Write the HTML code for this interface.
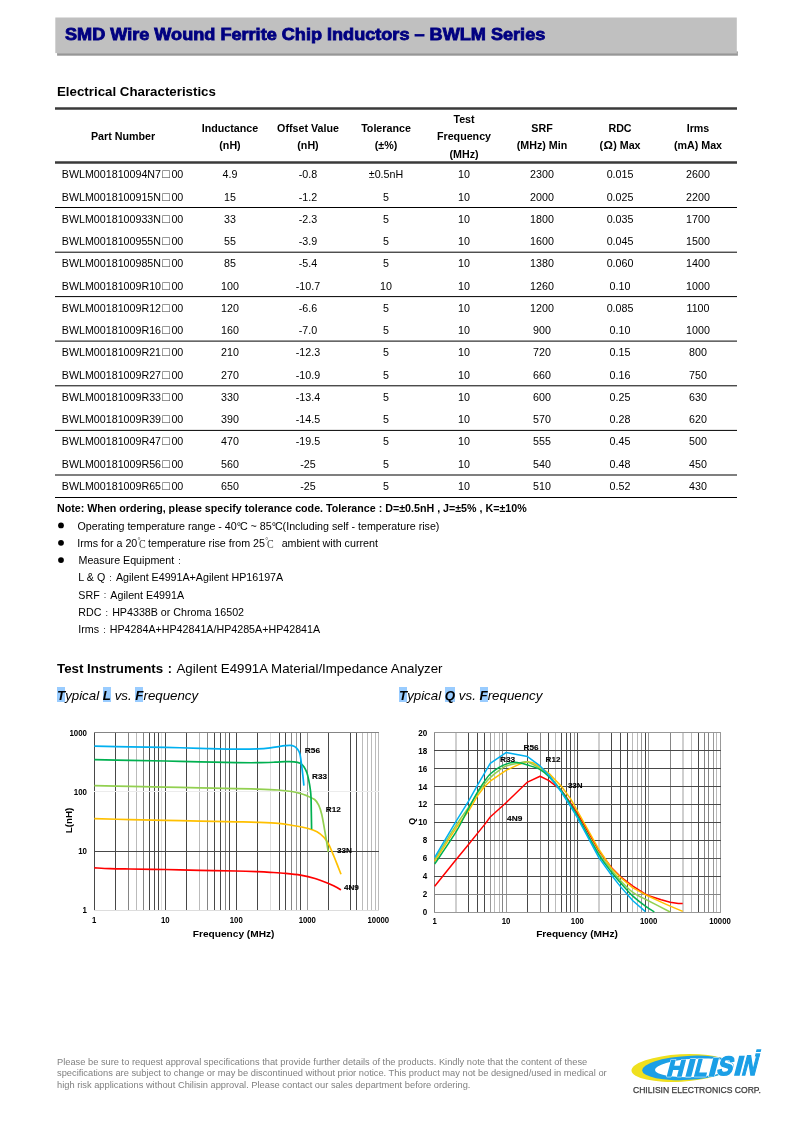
<!DOCTYPE html>
<html lang="en">
<head>
<meta charset="utf-8">
<title>SMD Wire Wound Ferrite Chip Inductors – BWLM Series</title>
<style>
html,body{margin:0;padding:0;background:#fff;}
body{width:794px;height:1123px;position:relative;overflow:hidden;font-family:"Liberation Sans",sans-serif;color:#000;}
#pg{position:absolute;left:0;top:0;width:794px;height:1123px;will-change:transform;}
.abs{position:absolute;white-space:nowrap;}
#banner{position:absolute;left:55px;top:17px;width:682px;height:35px;background:#c0c0c0;}
#bshadow{position:absolute;left:56px;top:52px;width:682px;height:3px;background:linear-gradient(#999 0,#999 66%,#c8c8c8 100%);}
#title{position:absolute;left:65.3px;top:25.3px;font-size:15.8px;font-weight:bold;color:#000080;white-space:nowrap;line-height:20px;transform-origin:0 50%;transform:scaleX(1.146);-webkit-text-stroke:0.8px #000080;}
#ec{left:57px;top:83.7px;font-size:13.3px;font-weight:bold;line-height:16px;}
table#t{position:absolute;left:55px;top:109.4px;width:682px;border-collapse:collapse;table-layout:fixed;font-size:10.7px;}
#t td,#t th{padding:0;text-align:center;vertical-align:middle;white-space:nowrap;}
#t th{font-weight:bold;line-height:17.3px;height:52.6px;padding-top:1.4px;}
#t td{height:22.25px;line-height:22.25px;}
#t td:first-child{text-align:left;padding-left:6.8px;}
.sq{font-size:12.7px;line-height:0;margin:0 1.4px 0 1.3px;color:#333;}
.n{font-size:10.7px;line-height:14px;}
.fw{display:inline-block;width:10.7px;text-align:center;font-size:9px;vertical-align:0.4px;color:#222;}
.dc{display:inline-block;position:relative;width:10.7px;height:1px;}
.dc i{position:absolute;left:0.3px;top:-8.8px;font:normal 7.5px/8px "Liberation Serif",serif;color:#444;}
.dc b{position:absolute;left:2.2px;top:-8.3px;font:normal 12px/12px "Liberation Serif",serif;transform:scaleX(.83);transform-origin:0 0;color:#333;}
.bu{position:absolute;left:58.2px;width:5.6px;height:5.6px;border-radius:50%;background:#000;}
.hl{padding-top:1px;background:linear-gradient(#99ccff,#99ccff) no-repeat 0 0/100% calc(100% - 1px);font-weight:bold;}
.ty{font-size:13.3px;font-style:italic;line-height:17px;}
.ft{font-size:9.3px;line-height:12px;color:#808080;left:57px;}
</style>
</head>
<body>
<div id="pg">
<svg width="794" height="60" viewBox="0 0 794 60" style="position:absolute;left:0;top:0;">
<rect x="57.1" y="51.4" width="680.8" height="4.3" fill="#979797"/>
<rect x="57.1" y="53" width="680.8" height="0.9" fill="#aaa"/>
<rect x="55.3" y="17.5" width="681.5" height="35.6" fill="#c0c0c0"/>
</svg>
<div id="title">SMD Wire Wound Ferrite Chip Inductors – BWLM Series</div>
<div id="ec" class="abs">Electrical Characteristics</div>

<svg width="794" height="400" viewBox="0 100 794 400" style="position:absolute;left:0;top:100px;">
<line x1="55" x2="737" y1="108.5" y2="108.5" stroke="#3a3a3a" stroke-width="2.5"/>
<line x1="55" x2="737" y1="162.5" y2="162.5" stroke="#3a3a3a" stroke-width="2.5"/>
<g stroke="#000" stroke-width="1">
<line x1="55" x2="737" y1="207.5" y2="207.5"/>
<line x1="55" x2="737" y1="252.2" y2="252.2"/>
<line x1="55" x2="737" y1="296.6" y2="296.6"/>
<line x1="55" x2="737" y1="341.1" y2="341.1"/>
<line x1="55" x2="737" y1="385.8" y2="385.8"/>
<line x1="55" x2="737" y1="430.4" y2="430.4"/>
<line x1="55" x2="737" y1="475.0" y2="475.0" stroke-width="1.7" stroke="#555"/>
<line x1="55" x2="737" y1="497.5" y2="497.5"/>
</g>
</svg>

<table id="t">
<colgroup><col style="width:136px"><col style="width:78px"><col style="width:78px"><col style="width:78px"><col style="width:78px"><col style="width:78px"><col style="width:78px"><col style="width:78px"></colgroup>
<thead>
<tr><th>Part Number</th><th>Inductance<br>(nH)</th><th>Offset Value<br>(nH)</th><th>Tolerance<br>(±%)</th><th>Test<br>Frequency<br>(MHz)</th><th>SRF<br>(MHz) Min</th><th>RDC<br>(<span style="display:inline-block;width:10.2px;text-align:center;font-size:11.8px;line-height:1;">Ω</span>) Max</th><th>Irms<br>(mA) Max</th></tr>
</thead>
<tbody>
<tr><td>BWLM001810094N7<span class="sq">□</span>00</td><td>4.9</td><td>-0.8</td><td>±0.5nH</td><td>10</td><td>2300</td><td>0.015</td><td>2600</td></tr>
<tr><td>BWLM0018100915N<span class="sq">□</span>00</td><td>15</td><td>-1.2</td><td>5</td><td>10</td><td>2000</td><td>0.025</td><td>2200</td></tr>
<tr><td>BWLM0018100933N<span class="sq">□</span>00</td><td>33</td><td>-2.3</td><td>5</td><td>10</td><td>1800</td><td>0.035</td><td>1700</td></tr>
<tr><td>BWLM0018100955N<span class="sq">□</span>00</td><td>55</td><td>-3.9</td><td>5</td><td>10</td><td>1600</td><td>0.045</td><td>1500</td></tr>
<tr><td>BWLM0018100985N<span class="sq">□</span>00</td><td>85</td><td>-5.4</td><td>5</td><td>10</td><td>1380</td><td>0.060</td><td>1400</td></tr>
<tr><td>BWLM00181009R10<span class="sq">□</span>00</td><td>100</td><td>-10.7</td><td>10</td><td>10</td><td>1260</td><td>0.10</td><td>1000</td></tr>
<tr><td>BWLM00181009R12<span class="sq">□</span>00</td><td>120</td><td>-6.6</td><td>5</td><td>10</td><td>1200</td><td>0.085</td><td>1100</td></tr>
<tr><td>BWLM00181009R16<span class="sq">□</span>00</td><td>160</td><td>-7.0</td><td>5</td><td>10</td><td>900</td><td>0.10</td><td>1000</td></tr>
<tr><td>BWLM00181009R21<span class="sq">□</span>00</td><td>210</td><td>-12.3</td><td>5</td><td>10</td><td>720</td><td>0.15</td><td>800</td></tr>
<tr><td>BWLM00181009R27<span class="sq">□</span>00</td><td>270</td><td>-10.9</td><td>5</td><td>10</td><td>660</td><td>0.16</td><td>750</td></tr>
<tr><td>BWLM00181009R33<span class="sq">□</span>00</td><td>330</td><td>-13.4</td><td>5</td><td>10</td><td>600</td><td>0.25</td><td>630</td></tr>
<tr><td>BWLM00181009R39<span class="sq">□</span>00</td><td>390</td><td>-14.5</td><td>5</td><td>10</td><td>570</td><td>0.28</td><td>620</td></tr>
<tr><td>BWLM00181009R47<span class="sq">□</span>00</td><td>470</td><td>-19.5</td><td>5</td><td>10</td><td>555</td><td>0.45</td><td>500</td></tr>
<tr><td>BWLM00181009R56<span class="sq">□</span>00</td><td>560</td><td>-25</td><td>5</td><td>10</td><td>540</td><td>0.48</td><td>450</td></tr>
<tr><td>BWLM00181009R65<span class="sq">□</span>00</td><td>650</td><td>-25</td><td>5</td><td>10</td><td>510</td><td>0.52</td><td>430</td></tr>
</tbody>
</table>

<svg width="20" height="60" viewBox="50 510 20 60" style="position:absolute;left:50px;top:510px;"><circle cx="61" cy="525.4" r="2.9"/><circle cx="61" cy="542.8" r="2.9"/><circle cx="61" cy="560.1" r="2.9"/></svg>
<div class="abs n" style="left:57px;top:501.1px;font-weight:bold;">Note: When ordering, please specify tolerance code. Tolerance : D=±0.5nH , J=±5% , K=±10%</div>
<div class="abs n" style="left:77.5px;top:518.5px;">Operating temperature range - 40<span style="letter-spacing:-1.1px">°</span>C ~ 85<span style="letter-spacing:-1.1px">°</span>C(Including self - temperature rise)</div>
<div class="abs n" style="left:77.3px;top:535.8px;">Irms for a 20<span class="dc"><i>°</i><b>C</b></span>temperature rise from 25<span class="dc"><i>°</i><b>C</b></span>&nbsp; ambient with current</div>
<div class="abs n" style="left:78.5px;top:553.1px;">Measure Equipment<span class="fw">:</span></div>
<div class="abs n" style="left:78.3px;top:570.4px;">L &amp; Q<span class="fw">:</span>Agilent E4991A+Agilent HP16197A</div>
<div class="abs n" style="left:78.3px;top:587.7px;">SRF<span class="fw">:</span>Agilent E4991A</div>
<div class="abs n" style="left:78.3px;top:605.0px;">RDC<span class="fw">:</span>HP4338B or Chroma 16502</div>
<div class="abs n" style="left:78.3px;top:622.4px;">Irms<span class="fw">:</span>HP4284A+HP42841A/HP4285A+HP42841A</div>

<div class="abs" style="left:57px;top:660px;font-size:13.3px;line-height:17px;"><b>Test Instruments</b><span style="display:inline-block;width:13.3px;text-align:center;font-weight:bold;font-size:12.5px;vertical-align:0.5px;">:</span>Agilent E4991A Material/Impedance Analyzer</div>
<div class="abs ty" style="left:57px;top:687px;"><span class="hl">T</span>ypical <span class="hl">L</span> vs. <span class="hl">F</span>requency</div>
<div class="abs ty" style="left:399px;top:687px;"><span class="hl">T</span>ypical <span class="hl">Q</span> vs. <span class="hl">F</span>requency</div>

<svg id="charts" width="794" height="240" viewBox="0 715 794 240" style="position:absolute;left:0;top:715px;font-family:'Liberation Sans',sans-serif;">
<g><line x1="94.50" y1="732.00" x2="94.50" y2="911.00" stroke="#484848" stroke-width="1.0"/><line x1="115.50" y1="732.00" x2="115.50" y2="911.00" stroke="#484848" stroke-width="1.0"/><line x1="128.50" y1="732.00" x2="128.50" y2="911.00" stroke="#858585" stroke-width="1.0"/><line x1="136.50" y1="732.00" x2="136.50" y2="911.00" stroke="#bbb" stroke-width="1.0"/><line x1="143.50" y1="732.00" x2="143.50" y2="911.00" stroke="#858585" stroke-width="1.0"/><line x1="149.50" y1="732.00" x2="149.50" y2="911.00" stroke="#484848" stroke-width="1.0"/><line x1="154.50" y1="732.00" x2="154.50" y2="911.00" stroke="#484848" stroke-width="1.0"/><line x1="158.50" y1="732.00" x2="158.50" y2="911.00" stroke="#484848" stroke-width="1.0"/><line x1="161.50" y1="732.00" x2="161.50" y2="911.00" stroke="#ddd" stroke-width="1.0"/><line x1="165.50" y1="732.00" x2="165.50" y2="911.00" stroke="#484848" stroke-width="1.0"/><line x1="186.50" y1="732.00" x2="186.50" y2="911.00" stroke="#484848" stroke-width="1.0"/><line x1="199.50" y1="732.00" x2="199.50" y2="911.00" stroke="#bbb" stroke-width="1.0"/><line x1="207.50" y1="732.00" x2="207.50" y2="911.00" stroke="#858585" stroke-width="1.0"/><line x1="214.50" y1="732.00" x2="214.50" y2="911.00" stroke="#484848" stroke-width="1.0"/><line x1="220.50" y1="732.00" x2="220.50" y2="911.00" stroke="#484848" stroke-width="1.0"/><line x1="225.50" y1="732.00" x2="225.50" y2="911.00" stroke="#858585" stroke-width="1.0"/><line x1="229.50" y1="732.00" x2="229.50" y2="911.00" stroke="#484848" stroke-width="1.0"/><line x1="236.50" y1="732.00" x2="236.50" y2="911.00" stroke="#484848" stroke-width="1.0"/><line x1="257.50" y1="732.00" x2="257.50" y2="911.00" stroke="#484848" stroke-width="1.0"/><line x1="270.50" y1="732.00" x2="270.50" y2="911.00" stroke="#ddd" stroke-width="1.0"/><line x1="279.50" y1="732.00" x2="279.50" y2="911.00" stroke="#484848" stroke-width="1.0"/><line x1="285.50" y1="732.00" x2="285.50" y2="911.00" stroke="#484848" stroke-width="1.0"/><line x1="291.50" y1="732.00" x2="291.50" y2="911.00" stroke="#858585" stroke-width="1.0"/><line x1="296.50" y1="732.00" x2="296.50" y2="911.00" stroke="#999" stroke-width="1.0"/><line x1="300.50" y1="732.00" x2="300.50" y2="911.00" stroke="#484848" stroke-width="1.0"/><line x1="307.50" y1="732.00" x2="307.50" y2="911.00" stroke="#999" stroke-width="1.0"/><line x1="328.50" y1="732.00" x2="328.50" y2="911.00" stroke="#484848" stroke-width="1.0"/><line x1="350.50" y1="732.00" x2="350.50" y2="911.00" stroke="#484848" stroke-width="1.0"/><line x1="356.50" y1="732.00" x2="356.50" y2="911.00" stroke="#484848" stroke-width="1.0"/><line x1="362.50" y1="732.00" x2="362.50" y2="911.00" stroke="#bbb" stroke-width="1.0"/><line x1="367.50" y1="732.00" x2="367.50" y2="911.00" stroke="#bbb" stroke-width="1.0"/><line x1="371.50" y1="732.00" x2="371.50" y2="911.00" stroke="#bbb" stroke-width="1.0"/><line x1="375.50" y1="732.00" x2="375.50" y2="911.00" stroke="#bbb" stroke-width="1.0"/><line x1="378.50" y1="732.00" x2="378.50" y2="911.00" stroke="#bbb" stroke-width="1.0"/><line x1="94.00" y1="732.50" x2="379.00" y2="732.50" stroke="#858585" stroke-width="1.0"/><line x1="94.00" y1="791.50" x2="379.00" y2="791.50" stroke="#ececec" stroke-width="1.0"/><line x1="94.00" y1="851.50" x2="379.00" y2="851.50" stroke="#484848" stroke-width="1.0"/><line x1="94.00" y1="910.50" x2="379.00" y2="910.50" stroke="#ddd" stroke-width="1.0"/></g>
<path d="M94.30,867.80 C96.92,867.93 104.05,868.40 110.00,868.60 C115.95,868.80 120.78,868.85 130.00,869.00 C139.22,869.15 153.63,869.28 165.30,869.50 C176.97,869.72 188.17,870.05 200.00,870.30 C211.83,870.55 226.70,870.77 236.30,871.00 C245.90,871.23 251.98,871.48 257.60,871.70 C263.22,871.92 265.33,872.03 270.00,872.30 C274.67,872.57 280.52,872.83 285.60,873.30 C290.68,873.77 295.60,874.23 300.50,875.10 C305.40,875.97 310.33,877.10 315.00,878.50 C319.67,879.90 325.17,882.17 328.50,883.50 C331.83,884.83 332.92,885.45 335.00,886.50 C337.08,887.55 340.00,889.25 341.00,889.80" fill="none" stroke="#ff0000" stroke-width="1.7" stroke-linejoin="round"/>
<path d="M94.30,818.70 C100.25,818.85 118.17,819.32 130.00,819.60 C141.83,819.88 153.63,820.15 165.30,820.40 C176.97,820.65 188.17,820.87 200.00,821.10 C211.83,821.33 226.70,821.60 236.30,821.80 C245.90,822.00 250.58,822.05 257.60,822.30 C264.62,822.55 272.72,822.80 278.40,823.30 C284.08,823.80 286.88,824.47 291.70,825.30 C296.52,826.13 303.08,827.23 307.30,828.30 C311.52,829.37 314.22,830.18 317.00,831.70 C319.78,833.22 322.05,835.28 324.00,837.40 C325.95,839.52 327.03,841.22 328.70,844.40 C330.37,847.58 332.45,852.80 334.00,856.50 C335.55,860.20 336.83,863.63 338.00,866.60 C339.17,869.57 340.50,873.02 341.00,874.30" fill="none" stroke="#ffc000" stroke-width="1.7" stroke-linejoin="round"/>
<path d="M94.30,785.70 C100.25,785.82 118.17,786.17 130.00,786.40 C141.83,786.63 153.63,786.87 165.30,787.10 C176.97,787.33 188.17,787.55 200.00,787.80 C211.83,788.05 226.70,788.38 236.30,788.60 C245.90,788.82 250.65,788.87 257.60,789.10 C264.55,789.33 272.32,789.60 278.00,790.00 C283.68,790.40 287.95,790.92 291.70,791.50 C295.45,792.08 298.02,792.82 300.50,793.50 C302.98,794.18 304.25,794.60 306.60,795.60 C308.95,796.60 312.58,797.92 314.60,799.50 C316.62,801.08 317.52,802.65 318.70,805.10 C319.88,807.55 320.70,810.00 321.70,814.20 C322.70,818.40 323.87,825.60 324.70,830.30 C325.53,835.00 326.10,838.78 326.70,842.40 C327.30,846.02 328.03,850.40 328.30,852.00" fill="none" stroke="#92d050" stroke-width="1.7" stroke-linejoin="round"/>
<path d="M94.30,759.70 C100.25,759.82 118.17,760.18 130.00,760.40 C141.83,760.62 153.63,760.77 165.30,761.00 C176.97,761.23 188.17,761.53 200.00,761.80 C211.83,762.07 226.70,762.45 236.30,762.60 C245.90,762.75 251.15,762.77 257.60,762.70 C264.05,762.63 270.43,762.37 275.00,762.20 C279.57,762.03 281.83,761.77 285.00,761.70 C288.17,761.63 291.48,761.53 294.00,761.80 C296.52,762.07 298.45,762.48 300.10,763.30 C301.75,764.12 302.77,765.12 303.90,766.70 C305.03,768.28 306.08,770.52 306.90,772.80 C307.72,775.08 308.23,777.63 308.80,780.40 C309.37,783.17 309.93,786.63 310.30,789.40 C310.67,792.17 310.83,793.23 311.00,797.00 C311.17,800.77 311.20,806.62 311.30,812.00 C311.40,817.38 311.55,826.42 311.60,829.30" fill="none" stroke="#00b050" stroke-width="1.7" stroke-linejoin="round"/>
<path d="M94.30,746.10 C100.25,746.22 118.17,746.58 130.00,746.80 C141.83,747.02 153.63,747.15 165.30,747.40 C176.97,747.65 188.17,748.02 200.00,748.30 C211.83,748.58 226.70,749.02 236.30,749.10 C245.90,749.18 251.93,749.02 257.60,748.80 C263.27,748.58 266.57,748.22 270.30,747.80 C274.03,747.38 277.55,746.65 280.00,746.30 C282.45,745.95 283.28,745.85 285.00,745.70 C286.72,745.55 288.80,745.32 290.30,745.40 C291.80,745.48 293.00,745.80 294.00,746.20 C295.00,746.60 295.55,747.07 296.30,747.80 C297.05,748.53 297.87,749.45 298.50,750.60 C299.13,751.75 299.58,752.27 300.10,754.70 C300.62,757.13 301.15,761.82 301.60,765.20 C302.05,768.58 302.42,771.60 302.80,775.00 C303.18,778.40 303.72,783.83 303.90,785.60" fill="none" stroke="#00b0f0" stroke-width="1.7" stroke-linejoin="round"/>
<g font-weight="bold" fill="#000"><text x="87.00" y="735.60" font-size="8.7" text-anchor="end" textLength="17.6" lengthAdjust="spacingAndGlyphs">1000</text><text x="87.00" y="794.87" font-size="8.7" text-anchor="end" textLength="13.2" lengthAdjust="spacingAndGlyphs">100</text><text x="87.00" y="854.13" font-size="8.7" text-anchor="end" textLength="8.8" lengthAdjust="spacingAndGlyphs">10</text><text x="87.00" y="913.40" font-size="8.7" text-anchor="end" textLength="4.4" lengthAdjust="spacingAndGlyphs">1</text><text x="94.20" y="922.80" font-size="8.7" text-anchor="middle" textLength="4.3" lengthAdjust="spacingAndGlyphs">1</text><text x="165.23" y="922.80" font-size="8.7" text-anchor="middle" textLength="8.7" lengthAdjust="spacingAndGlyphs">10</text><text x="236.26" y="922.80" font-size="8.7" text-anchor="middle" textLength="13.0" lengthAdjust="spacingAndGlyphs">100</text><text x="307.29" y="922.80" font-size="8.7" text-anchor="middle" textLength="17.3" lengthAdjust="spacingAndGlyphs">1000</text><text x="378.32" y="922.80" font-size="8.7" text-anchor="middle" textLength="21.6" lengthAdjust="spacingAndGlyphs">10000</text><text x="233.60" y="936.90" font-size="8.9" text-anchor="middle" textLength="81.7" lengthAdjust="spacingAndGlyphs">Frequency (MHz)</text><text transform="translate(72.3,820.5) rotate(-90)" font-size="8.9" text-anchor="middle" textLength="25.5" lengthAdjust="spacingAndGlyphs">L(nH)</text><g stroke="#000" stroke-width="0.12"><text x="304.80" y="752.90" font-size="7.2" text-anchor="start" textLength="15.3" lengthAdjust="spacingAndGlyphs">R56</text><text x="312.00" y="778.90" font-size="7.2" text-anchor="start" textLength="15.0" lengthAdjust="spacingAndGlyphs">R33</text><text x="325.80" y="811.50" font-size="7.2" text-anchor="start" textLength="15.0" lengthAdjust="spacingAndGlyphs">R12</text><text x="336.90" y="852.60" font-size="7.2" text-anchor="start" textLength="15.0" lengthAdjust="spacingAndGlyphs">33N</text><text x="343.90" y="889.80" font-size="7.2" text-anchor="start" textLength="15.0" lengthAdjust="spacingAndGlyphs">4N9</text></g></g>
<g><line x1="434.50" y1="732.00" x2="434.50" y2="913.00" stroke="#858585" stroke-width="1.0"/><line x1="456.00" y1="732" x2="456.00" y2="913" stroke="#cfcfcf" stroke-width="2"/><line x1="468.50" y1="732.00" x2="468.50" y2="913.00" stroke="#484848" stroke-width="1.0"/><line x1="477.50" y1="732.00" x2="477.50" y2="913.00" stroke="#484848" stroke-width="1.0"/><line x1="484.50" y1="732.00" x2="484.50" y2="913.00" stroke="#484848" stroke-width="1.0"/><line x1="490.50" y1="732.00" x2="490.50" y2="913.00" stroke="#999" stroke-width="1.0"/><line x1="494.50" y1="732.00" x2="494.50" y2="913.00" stroke="#bbb" stroke-width="1.0"/><line x1="499.50" y1="732.00" x2="499.50" y2="913.00" stroke="#bbb" stroke-width="1.0"/><line x1="502.50" y1="732.00" x2="502.50" y2="913.00" stroke="#858585" stroke-width="1.0"/><line x1="506.50" y1="732.00" x2="506.50" y2="913.00" stroke="#999" stroke-width="1.0"/><line x1="527.50" y1="732.00" x2="527.50" y2="913.00" stroke="#484848" stroke-width="1.0"/><line x1="540.50" y1="732.00" x2="540.50" y2="913.00" stroke="#858585" stroke-width="1.0"/><line x1="548.50" y1="732.00" x2="548.50" y2="913.00" stroke="#484848" stroke-width="1.0"/><line x1="555.50" y1="732.00" x2="555.50" y2="913.00" stroke="#bbb" stroke-width="1.0"/><line x1="561.50" y1="732.00" x2="561.50" y2="913.00" stroke="#484848" stroke-width="1.0"/><line x1="566.50" y1="732.00" x2="566.50" y2="913.00" stroke="#484848" stroke-width="1.0"/><line x1="570.50" y1="732.00" x2="570.50" y2="913.00" stroke="#484848" stroke-width="1.0"/><line x1="574.50" y1="732.00" x2="574.50" y2="913.00" stroke="#999" stroke-width="1.0"/><line x1="577.50" y1="732.00" x2="577.50" y2="913.00" stroke="#484848" stroke-width="1.0"/><line x1="599.00" y1="732" x2="599.00" y2="913" stroke="#cfcfcf" stroke-width="2"/><line x1="611.50" y1="732.00" x2="611.50" y2="913.00" stroke="#484848" stroke-width="1.0"/><line x1="620.50" y1="732.00" x2="620.50" y2="913.00" stroke="#484848" stroke-width="1.0"/><line x1="627.50" y1="732.00" x2="627.50" y2="913.00" stroke="#484848" stroke-width="1.0"/><line x1="632.50" y1="732.00" x2="632.50" y2="913.00" stroke="#bbb" stroke-width="1.0"/><line x1="637.50" y1="732.00" x2="637.50" y2="913.00" stroke="#bbb" stroke-width="1.0"/><line x1="641.50" y1="732.00" x2="641.50" y2="913.00" stroke="#999" stroke-width="1.0"/><line x1="645.50" y1="732.00" x2="645.50" y2="913.00" stroke="#484848" stroke-width="1.0"/><line x1="648.50" y1="732.00" x2="648.50" y2="913.00" stroke="#999" stroke-width="1.0"/><line x1="670.50" y1="732.00" x2="670.50" y2="913.00" stroke="#858585" stroke-width="1.0"/><line x1="683.00" y1="732" x2="683.00" y2="913" stroke="#cfcfcf" stroke-width="2"/><line x1="691.50" y1="732.00" x2="691.50" y2="913.00" stroke="#bbb" stroke-width="1.0"/><line x1="698.50" y1="732.00" x2="698.50" y2="913.00" stroke="#484848" stroke-width="1.0"/><line x1="704.50" y1="732.00" x2="704.50" y2="913.00" stroke="#858585" stroke-width="1.0"/><line x1="708.50" y1="732.00" x2="708.50" y2="913.00" stroke="#858585" stroke-width="1.0"/><line x1="713.50" y1="732.00" x2="713.50" y2="913.00" stroke="#999" stroke-width="1.0"/><line x1="716.50" y1="732.00" x2="716.50" y2="913.00" stroke="#bbb" stroke-width="1.0"/><line x1="720.50" y1="732.00" x2="720.50" y2="913.00" stroke="#999" stroke-width="1.0"/><line x1="434.00" y1="732.50" x2="721.00" y2="732.50" stroke="#999" stroke-width="1.0"/><line x1="434.00" y1="750.50" x2="721.00" y2="750.50" stroke="#484848" stroke-width="1.0"/><line x1="434.00" y1="768.50" x2="721.00" y2="768.50" stroke="#484848" stroke-width="1.0"/><line x1="434.00" y1="786.50" x2="721.00" y2="786.50" stroke="#484848" stroke-width="1.0"/><line x1="434.00" y1="804.50" x2="721.00" y2="804.50" stroke="#484848" stroke-width="1.0"/><line x1="434.00" y1="822.50" x2="721.00" y2="822.50" stroke="#484848" stroke-width="1.0"/><line x1="434.00" y1="840.50" x2="721.00" y2="840.50" stroke="#484848" stroke-width="1.0"/><line x1="434.00" y1="858.50" x2="721.00" y2="858.50" stroke="#555" stroke-width="1.0"/><line x1="434.00" y1="876.50" x2="721.00" y2="876.50" stroke="#484848" stroke-width="1.0"/><line x1="434.00" y1="894.50" x2="721.00" y2="894.50" stroke="#858585" stroke-width="1.0"/><line x1="434.00" y1="912.50" x2="721.00" y2="912.50" stroke="#999" stroke-width="1.0"/></g>
<polyline points="434.70,886.20 456.17,859.58 468.73,844.35 477.64,833.15 484.56,824.64 490.21,817.02 506.03,802.69 527.50,782.08 540.06,776.26 548.97,780.56 561.54,790.41 570.45,803.05 577.36,813.17 598.83,850.80 611.39,867.47 620.30,876.52 632.87,886.02 645.43,894.08 648.69,895.78 661.25,899.72 670.16,902.23 678.29,903.49 682.72,903.49" fill="none" stroke="#ff0000" stroke-width="1.5" stroke-linejoin="round" stroke-linecap="butt"/>
<polyline points="434.70,861.29 456.17,827.78 468.73,810.75 477.64,795.52 484.56,786.56 490.21,781.18 506.03,770.43 518.59,764.61 527.50,761.65 533.15,762.82 540.06,767.03 548.97,773.39 561.54,786.56 570.45,798.66 577.36,810.75 598.83,849.28 611.39,868.19 620.30,877.24 632.87,887.81 645.43,894.71 661.25,902.14 670.16,906.09 682.72,911.37" fill="none" stroke="#ffc000" stroke-width="1.5" stroke-linejoin="round" stroke-linecap="butt"/>
<path d="M434.70,859.40 C438.28,853.69 450.50,833.79 456.17,825.09 C461.84,816.38 465.15,812.54 468.73,807.17 C472.31,801.79 475.01,796.71 477.64,792.83 C480.28,788.95 482.46,786.41 484.56,783.87 C486.65,781.33 487.78,779.84 490.21,777.60 C492.63,775.36 496.48,772.37 499.12,770.43 C501.75,768.49 502.78,767.18 506.03,765.95 C509.28,764.73 515.01,763.73 518.59,763.08 C522.17,762.44 523.92,761.17 527.50,762.10 C531.08,763.03 536.48,766.44 540.06,768.64 C543.64,770.84 545.40,771.46 548.97,775.27 C552.55,779.08 557.96,786.47 561.54,791.49 C565.11,796.51 567.81,801.19 570.45,805.38 C573.08,809.56 572.63,808.62 577.36,816.58 C582.09,824.54 593.16,844.28 598.83,853.13 C604.50,861.99 607.81,865.17 611.39,869.71 C614.97,874.25 616.73,876.58 620.30,880.37 C623.88,884.16 628.68,889.32 632.87,892.47 C637.05,895.62 639.21,896.02 645.43,899.28 C651.64,902.53 666.04,909.88 670.16,912.00" fill="none" stroke="#92d050" stroke-width="1.5" stroke-linejoin="round"/>
<path d="M434.70,863.97 C438.28,858.60 450.50,841.04 456.17,831.72 C461.84,822.40 465.15,814.69 468.73,808.06 C472.31,801.43 475.01,796.42 477.64,791.94 C480.28,787.46 482.46,784.17 484.56,781.18 C486.65,778.20 487.78,776.33 490.21,774.02 C492.63,771.70 496.48,768.94 499.12,767.30 C501.75,765.65 503.52,764.98 506.03,764.16 C508.54,763.34 511.73,762.55 514.16,762.37 C516.58,762.19 518.37,762.64 520.59,763.08 C522.81,763.53 524.26,763.98 527.50,765.06 C530.75,766.13 536.48,767.59 540.06,769.54 C543.64,771.48 545.40,773.12 548.97,776.70 C552.55,780.29 557.96,786.41 561.54,791.04 C565.11,795.67 567.81,800.37 570.45,804.48 C573.08,808.59 572.63,807.32 577.36,815.68 C582.09,824.04 593.16,845.28 598.83,854.66 C604.50,864.03 607.81,867.30 611.39,871.95 C614.97,876.59 616.73,878.49 620.30,882.52 C623.88,886.55 628.68,892.21 632.87,896.14 C637.05,900.07 641.85,903.44 645.43,906.09 C649.00,908.73 652.85,911.01 654.34,912.00" fill="none" stroke="#00b050" stroke-width="1.5" stroke-linejoin="round"/>
<polyline points="434.70,857.34 456.17,821.06 468.73,800.90 477.64,784.77 484.56,773.12 490.21,763.26 506.03,752.51 527.50,756.54 540.06,765.95 548.97,775.27 561.54,792.29 570.45,806.27 577.36,817.56 598.83,857.61 611.39,875.00 620.30,886.37 632.87,900.80 645.43,911.64" fill="none" stroke="#00b0f0" stroke-width="1.5" stroke-linejoin="round" stroke-linecap="butt"/>
<g font-weight="bold" fill="#000"><text x="427.20" y="915.00" font-size="8.7" text-anchor="end" textLength="4.5" lengthAdjust="spacingAndGlyphs">0</text><text x="427.20" y="897.08" font-size="8.7" text-anchor="end" textLength="4.5" lengthAdjust="spacingAndGlyphs">2</text><text x="427.20" y="879.16" font-size="8.7" text-anchor="end" textLength="4.5" lengthAdjust="spacingAndGlyphs">4</text><text x="427.20" y="861.24" font-size="8.7" text-anchor="end" textLength="4.5" lengthAdjust="spacingAndGlyphs">6</text><text x="427.20" y="843.32" font-size="8.7" text-anchor="end" textLength="4.5" lengthAdjust="spacingAndGlyphs">8</text><text x="427.20" y="825.40" font-size="8.7" text-anchor="end" textLength="9.0" lengthAdjust="spacingAndGlyphs">10</text><text x="427.20" y="807.48" font-size="8.7" text-anchor="end" textLength="9.0" lengthAdjust="spacingAndGlyphs">12</text><text x="427.20" y="789.56" font-size="8.7" text-anchor="end" textLength="9.0" lengthAdjust="spacingAndGlyphs">14</text><text x="427.20" y="771.64" font-size="8.7" text-anchor="end" textLength="9.0" lengthAdjust="spacingAndGlyphs">16</text><text x="427.20" y="753.72" font-size="8.7" text-anchor="end" textLength="9.0" lengthAdjust="spacingAndGlyphs">18</text><text x="427.20" y="735.80" font-size="8.7" text-anchor="end" textLength="9.0" lengthAdjust="spacingAndGlyphs">20</text><text x="434.70" y="923.70" font-size="8.7" text-anchor="middle" textLength="4.3" lengthAdjust="spacingAndGlyphs">1</text><text x="506.03" y="923.70" font-size="8.7" text-anchor="middle" textLength="8.7" lengthAdjust="spacingAndGlyphs">10</text><text x="577.36" y="923.70" font-size="8.7" text-anchor="middle" textLength="13.0" lengthAdjust="spacingAndGlyphs">100</text><text x="648.69" y="923.70" font-size="8.7" text-anchor="middle" textLength="17.3" lengthAdjust="spacingAndGlyphs">1000</text><text x="720.02" y="923.70" font-size="8.7" text-anchor="middle" textLength="21.6" lengthAdjust="spacingAndGlyphs">10000</text><text x="577.00" y="936.90" font-size="8.9" text-anchor="middle" textLength="81.7" lengthAdjust="spacingAndGlyphs">Frequency (MHz)</text><text transform="translate(414.6,821.3) rotate(-90)" font-size="8.9" text-anchor="middle">Q</text><g stroke="#000" stroke-width="0.12"><text x="523.50" y="750.40" font-size="7.2" text-anchor="start" textLength="15.0" lengthAdjust="spacingAndGlyphs">R56</text><text x="499.90" y="761.80" font-size="7.2" text-anchor="start" textLength="15.3" lengthAdjust="spacingAndGlyphs">R33</text><text x="545.60" y="761.80" font-size="7.2" text-anchor="start" textLength="14.8" lengthAdjust="spacingAndGlyphs">R12</text><text x="567.90" y="787.60" font-size="7.2" text-anchor="start" textLength="14.7" lengthAdjust="spacingAndGlyphs">33N</text><text x="507.10" y="820.70" font-size="7.2" text-anchor="start" textLength="15.2" lengthAdjust="spacingAndGlyphs">4N9</text></g></g>
</svg>

<div class="abs ft" style="top:1055.5px;">Please be sure to request approval specifications that provide further details of the products. Kindly note that the content of these</div>
<div class="abs ft" style="top:1067.4px;">specifications are subject to change or may be discontinued without prior notice. This product may not be designed/used in medical or</div>
<div class="abs ft" style="top:1079.1px;">high risk applications without Chilisin approval. Please contact our sales department before ordering.</div>

<svg id="logo" width="174" height="68" viewBox="620 1040 174 68" style="position:absolute;left:620px;top:1040px;">
<g transform="rotate(-3.2 684 1067.8)">
<ellipse cx="681" cy="1067.8" rx="49.6" ry="13.7" fill="#efe01e"/>
<ellipse cx="688" cy="1068.1" rx="46" ry="12.0" fill="#1b9fe6"/>
<ellipse cx="694.3" cy="1068.4" rx="39.4" ry="9.1" fill="#fff"/>
</g>
<g font-family="'Liberation Sans',sans-serif" font-weight="bold" fill="#fff" stroke="#fff" stroke-width="2.4" stroke-linejoin="round"><text x="0" y="0" font-size="22.97" textLength="16.70" lengthAdjust="spacingAndGlyphs" transform="translate(665.90,1076.10) skewX(-14.5)">H</text><text x="0" y="0" font-size="23.84" textLength="8.00" lengthAdjust="spacingAndGlyphs" transform="translate(684.40,1075.90) skewX(-14.5)">I</text><text x="0" y="0" font-size="24.42" textLength="13.00" lengthAdjust="spacingAndGlyphs" transform="translate(693.20,1075.70) skewX(-14.5)">L</text><text x="0" y="0" font-size="25.15" textLength="8.00" lengthAdjust="spacingAndGlyphs" transform="translate(707.40,1075.50) skewX(-14.5)">I</text><text x="0" y="0" font-size="26.45" textLength="15.60" lengthAdjust="spacingAndGlyphs" transform="translate(716.00,1075.30) skewX(-14.5)">S</text><text x="0" y="0" font-size="27.03" textLength="8.00" lengthAdjust="spacingAndGlyphs" transform="translate(732.90,1075.10) skewX(-14.5)">I</text><text x="0" y="0" font-size="28.05" textLength="14.60" lengthAdjust="spacingAndGlyphs" transform="translate(740.90,1074.80) skewX(-14.5)">N</text></g>
<g font-family="'Liberation Sans',sans-serif" font-weight="bold" fill="#1b9fe6" stroke="#1b9fe6" stroke-width="1.4" stroke-linejoin="miter"><text x="0" y="0" font-size="22.97" textLength="16.70" lengthAdjust="spacingAndGlyphs" transform="translate(665.90,1076.10) skewX(-14.5)">H</text><text x="0" y="0" font-size="23.84" textLength="8.00" lengthAdjust="spacingAndGlyphs" transform="translate(684.40,1075.90) skewX(-14.5)">I</text><text x="0" y="0" font-size="24.42" textLength="13.00" lengthAdjust="spacingAndGlyphs" transform="translate(693.20,1075.70) skewX(-14.5)">L</text><text x="0" y="0" font-size="25.15" textLength="8.00" lengthAdjust="spacingAndGlyphs" transform="translate(707.40,1075.50) skewX(-14.5)">I</text><text x="0" y="0" font-size="26.45" textLength="15.60" lengthAdjust="spacingAndGlyphs" transform="translate(716.00,1075.30) skewX(-14.5)">S</text><text x="0" y="0" font-size="27.03" textLength="8.00" lengthAdjust="spacingAndGlyphs" transform="translate(732.90,1075.10) skewX(-14.5)">I</text><text x="0" y="0" font-size="28.05" textLength="14.60" lengthAdjust="spacingAndGlyphs" transform="translate(740.90,1074.80) skewX(-14.5)">N</text></g>
<polygon points="756.6,1049.2 761.4,1049.2 760.7,1051.9 755.9,1051.9" fill="#1b9fe6"/>
<polygon points="755.6,1053.2 760.4,1053.2 759.6,1056.5 754.8,1056.5" fill="#1b9fe6"/>
<text x="633" y="1093.2" font-family="'Liberation Sans',sans-serif" font-size="8.5" fill="#3c3c3c" stroke="#3c3c3c" stroke-width="0.25" textLength="127.8" lengthAdjust="spacingAndGlyphs">CHILISIN ELECTRONICS CORP.</text>
</svg>
</div>
</body>
</html>
